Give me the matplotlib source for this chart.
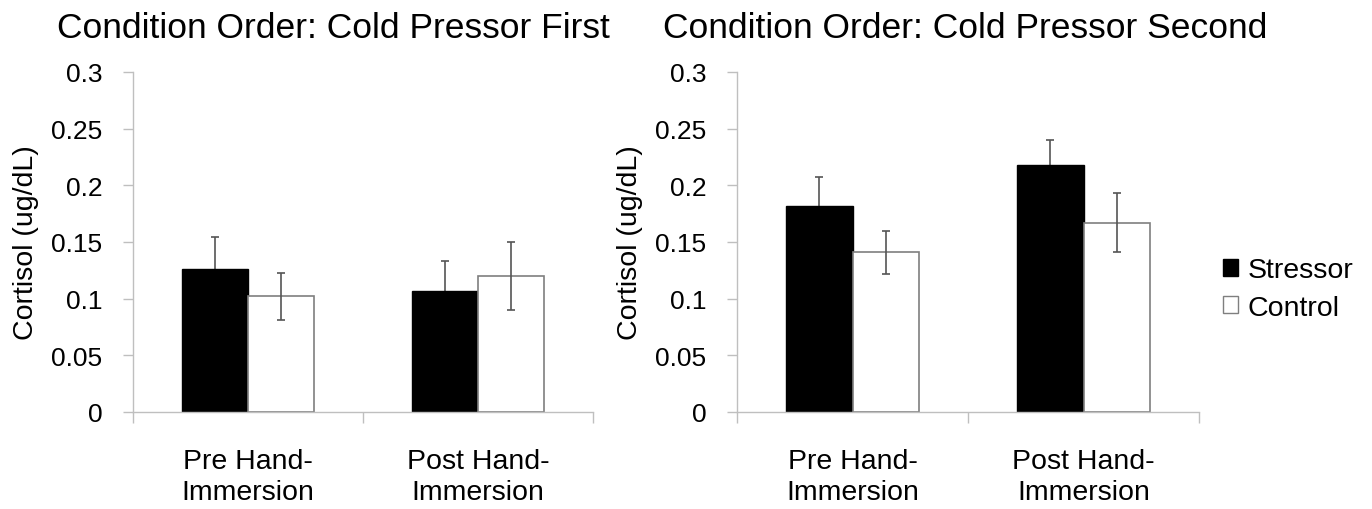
import matplotlib
matplotlib.use("Agg")
import matplotlib.pyplot as plt
from matplotlib.patches import Patch
import numpy as np

plt.rcParams['font.family'] = ['Liberation Sans', 'DejaVu Sans']

categories = ["Pre Hand-\nImmersion", "Post Hand-\nImmersion"]
series = ["Stressor", "Control"]
titles = ["Condition Order: Cold Pressor First", "Condition Order: Cold Pressor Second"]

first_stressor = [0.126, 0.107]
first_stressor_err = [0.028, 0.026]
first_control = [0.102, 0.120]
first_control_err = [0.021, 0.030]

second_stressor = [0.182, 0.218]
second_stressor_err = [0.025, 0.022]
second_control = [0.141, 0.167]
second_control_err = [0.019, 0.026]

yticks = [0, 0.05, 0.1, 0.15, 0.2, 0.25, 0.3]
ytick_labels = ["0", "0.05", "0.1", "0.15", "0.2", "0.25", "0.3"]

W, H = 1372, 510
fig = plt.figure(figsize=(W / 100, H / 100), dpi=100)

axes_px = [(133, 593), (737, 1199)]
y_top, y_bot = 73, 413
spine_col = "#bfbfbf"
err_col = "#555555"
bw = 0.287

panels = [
    (first_stressor, first_stressor_err, first_control, first_control_err),
    (second_stressor, second_stressor_err, second_control, second_control_err),
]

title_x = [333, 965]
ylabel_x = [26, 630]

for i, ((x0, x1), (s, se, c, ce)) in enumerate(zip(axes_px, panels)):
    ax = fig.add_axes([x0 / W, 1 - y_bot / H, (x1 - x0) / W, (y_bot - y_top) / H])
    x = np.arange(len(categories))
    ax.bar(x - bw / 2, s, bw, color="black", edgecolor="black", linewidth=1.0, zorder=2)
    ax.bar(x + bw / 2, c, bw, color="white", edgecolor="#7f7f7f", linewidth=1.2, zorder=2)
    # stressor error bars sit behind the black bar, so only the upper half shows
    ax.errorbar(x - bw / 2, s, yerr=se, fmt="none", ecolor=err_col, elinewidth=1.2,
                capsize=3, capthick=1.2, zorder=1)
    ax.errorbar(x + bw / 2, c, yerr=ce, fmt="none", ecolor=err_col, elinewidth=1.2,
                capsize=3, capthick=1.2, zorder=3)
    ax.set_xlim(-0.5, 1.5)
    ax.set_ylim(0, 0.3)
    ax.set_yticks(yticks)
    ax.set_yticklabels(ytick_labels, fontsize=19)
    ax.tick_params(axis="y", length=7, width=1, color=spine_col, pad=15)
    ax.set_xticks([-0.5, 0.5, 1.5])
    ax.set_xticklabels(["", "", ""])
    ax.tick_params(axis="x", which="major", length=8, width=1, color=spine_col)
    ax.set_xticks(x, minor=True)
    ax.set_xticklabels(categories, minor=True, fontsize=20.5, linespacing=1.25)
    ax.tick_params(axis="x", which="minor", length=0, pad=26)
    for sp in ["top", "right"]:
        ax.spines[sp].set_visible(False)
    for sp in ["left", "bottom"]:
        ax.spines[sp].set_color(spine_col)
        ax.spines[sp].set_linewidth(1)
    fig.text(title_x[i] / W, 1 - 28 / H, titles[i], fontsize=25.5, ha="center", va="center")
    fig.text(ylabel_x[i] / W, 1 - 243 / H, "Cortisol (ug/dL)", fontsize=20.5,
             rotation=90, ha="center", va="center")

handles = [Patch(facecolor="black", edgecolor="black"),
           Patch(facecolor="white", edgecolor="#7f7f7f")]
fig.legend(handles, series, loc="center left", bbox_to_anchor=(1223 / W, 1 - 290 / H),
           frameon=False, fontsize=20.5, handlelength=0.53, handleheight=0.53,
           handletextpad=0.32, labelspacing=0.4, borderpad=0, borderaxespad=0)

fig.savefig("out.png", dpi=100)
